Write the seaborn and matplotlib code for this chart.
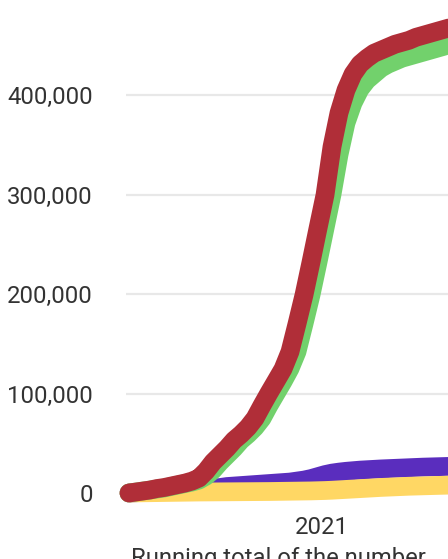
import pandas as pd
import numpy as np
import matplotlib
matplotlib.use("Agg")
import matplotlib.pyplot as plt
import matplotlib.dates as mdates
import matplotlib.ticker as mticker
import seaborn as sns

# data (thousands), weekly points
dates = pd.date_range("2020-06-22", periods=47, freq="7D")
red_vals = [0, 1, 2, 3, 4.5, 5.5, 7, 8.5, 10, 12, 15, 22, 31, 38, 45, 53, 59, 66, 75, 88,
            100.5, 112.5, 124.6, 142, 170, 199, 232, 266, 299.5, 348, 382, 405, 421, 431, 437,
            442, 445, 448, 451, 453, 455, 458, 460, 462, 464, 466, 468]
green_vals = [0, 1, 2, 3, 4, 5, 6.5, 8, 9.5, 11, 13, 17, 23, 31, 38, 45, 53, 59, 66, 75,
              88, 100, 112, 125, 142, 170, 199, 232, 266, 300, 340, 372, 392, 406, 415,
              421, 427, 431, 434, 437, 439, 441, 443, 445, 447, 449, 452]
purple_vals = [0, 0.3, 0.6, 1, 1.3, 1.6, 2, 2.3, 2.7, 3, 3.5, 4, 5, 5.5, 6.5, 7, 7.5, 8, 8.5, 9,
               9.5, 10, 10.5, 11, 12, 13, 14.5, 16.5, 18.5, 20, 21, 21.8, 22.4, 23, 23.4,
               23.8, 24.2, 24.5, 24.8, 25.1, 25.4, 25.7, 26, 26.2, 26.4, 26.6, 26.8]
yellow_vals = [0, 0.1, 0.2, 0.3, 0.4, 0.5, 0.6, 0.7, 0.8, 0.9, 1.0, 1.05, 1.1, 1.15, 1.2, 1.25,
               1.3, 1.35, 1.4, 1.45, 1.5, 1.6, 1.7, 1.8, 1.9, 2.0, 2.1, 2.3, 2.5, 2.8, 3.2,
               3.6, 4.0, 4.4, 4.8, 5.2, 5.6, 5.9, 6.2, 6.5, 6.8, 7.0, 7.2, 7.4, 7.6, 7.8, 8.0]

series_names = ["purple", "yellow", "green", "red"]
colors = {"purple": "#5a2dbe", "yellow": "#ffd764", "green": "#72d16c", "red": "#b02e38"}

df = pd.DataFrame({"date": dates, "purple": purple_vals, "yellow": yellow_vals,
                   "green": green_vals, "red": red_vals})
long = df.melt(id_vars="date", var_name="series", value_name="value")
long["value"] = long["value"] * 1000

sns.set_style("white")
plt.rcParams["font.family"] = ["Roboto", "DejaVu Sans"]
text_col = "#333333"

fig = plt.figure(figsize=(4.48, 5.59), dpi=100)
ax = fig.add_axes([126 / 448, 54 / 559, 322 / 448, 505 / 559])

sns.lineplot(data=long, x="date", y="value", hue="series", hue_order=series_names,
             palette=colors, linewidth=13.5, legend=False, ax=ax,
             solid_capstyle="round", solid_joinstyle="round", clip_on=False)

x0 = mdates.date2num(pd.Timestamp("2020-06-19"))
ax.set_xlim(x0, x0 + 322)
ax.set_ylim(-12060, 495500)

ax.set_yticks([0, 100000, 200000, 300000, 400000])
ax.yaxis.set_major_formatter(mticker.FuncFormatter(lambda v, p: f"{int(v):,}"))
ax.set_xticks([mdates.date2num(pd.Timestamp("2021-01-01"))])
ax.set_xticklabels(["2021"])
ax.tick_params(axis="y", length=0, pad=24, labelsize=17.2, labelcolor=text_col)
ax.tick_params(axis="x", length=0, pad=8, labelsize=17.2, labelcolor=text_col)
ax.set_xlabel("")
ax.set_ylabel("")
ax.grid(axis="y", color="#e8e8e8", linewidth=1.6)
ax.set_axisbelow(True)
for s in ax.spines.values():
    s.set_visible(False)

fig.text(278 / 448, -6 / 559, "Running total of the number", ha="center", va="baseline",
         fontsize=17.2, color=text_col)

fig.savefig("out.png", dpi=100)
